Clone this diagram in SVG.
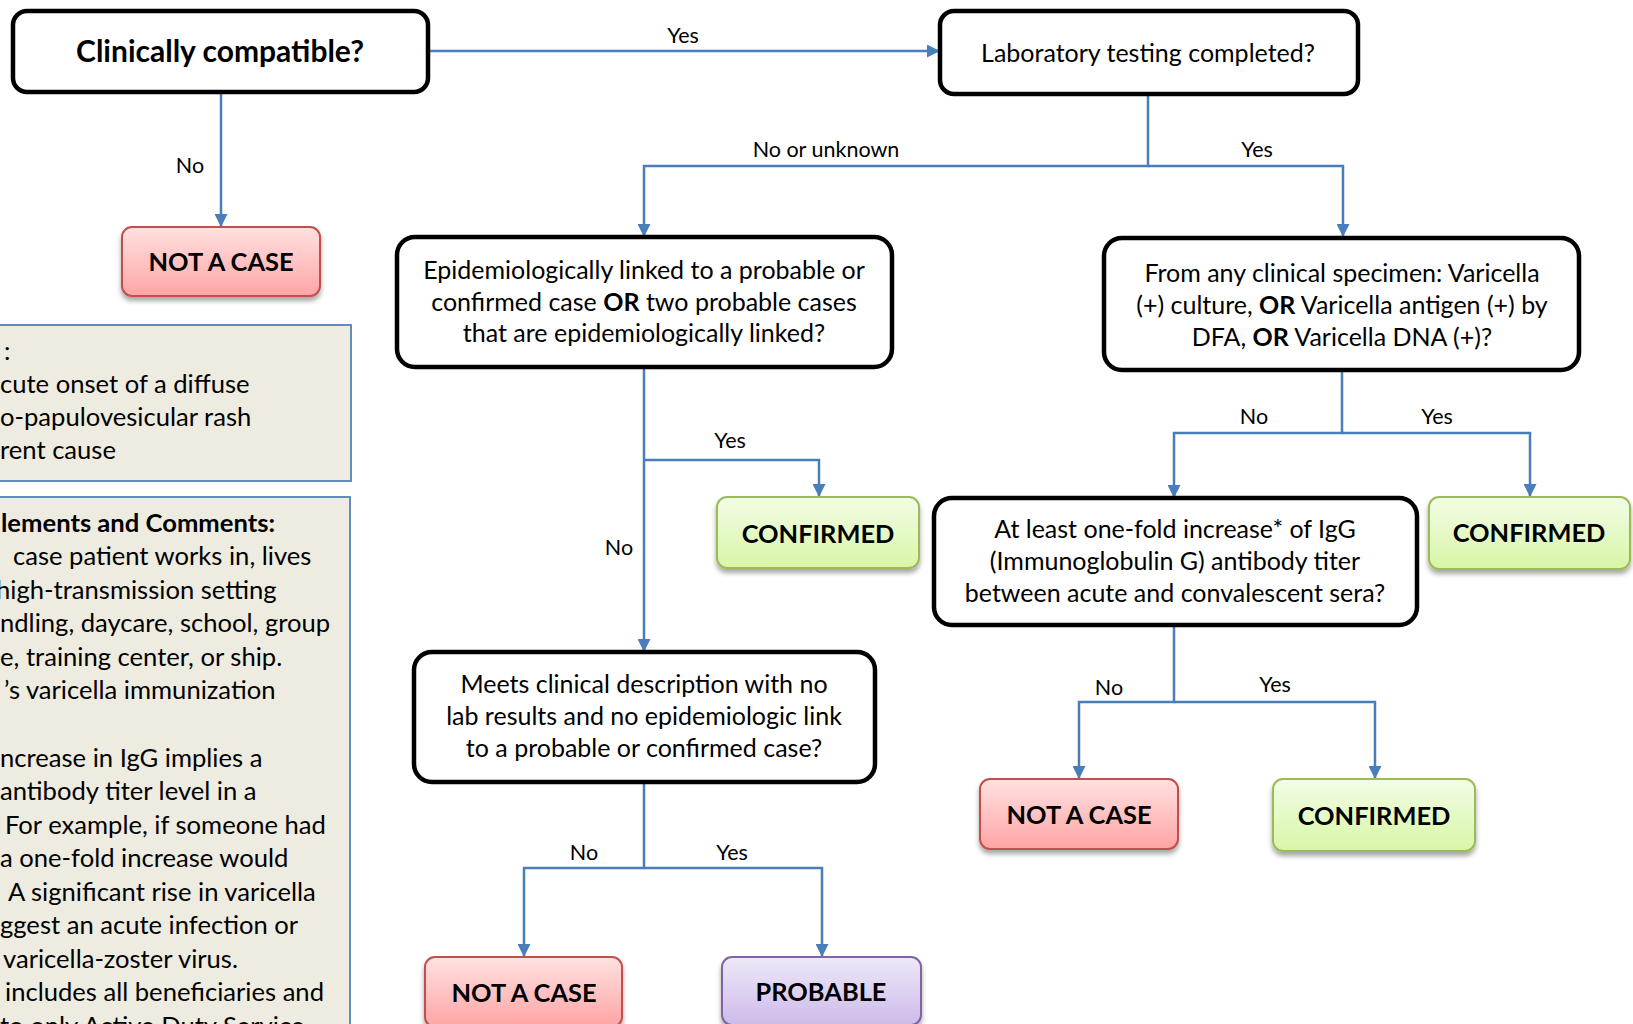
<svg xmlns="http://www.w3.org/2000/svg" width="1633" height="1024" viewBox="0 0 1633 1024">
<style>
.q{fill:#fff;stroke:#000;stroke-width:4.5}
.t{font-family:Lato,"Liberation Sans",sans-serif;font-size:25px;fill:#000;text-anchor:middle}
.tb{font-family:Lato,"Liberation Sans",sans-serif;font-weight:bold;font-size:25.4px;fill:#000;text-anchor:middle}
.lbl{font-family:Lato,"Liberation Sans",sans-serif;font-size:21.5px;fill:#000;text-anchor:middle}
.side{font-family:Lato,"Liberation Sans",sans-serif;font-size:25.6px;fill:#000}
.c{fill:none;stroke:#4A7EBB;stroke-width:2.5}
.a{marker-end:url(#ah)}
.nac{fill:url(#gRed);stroke:#C0504D;stroke-width:2;filter:url(#sh)}
.conf{fill:url(#gGreen);stroke:#9BBB59;stroke-width:2;filter:url(#sh)}
.prob{fill:url(#gPurple);stroke:#8064A2;stroke-width:2;filter:url(#sh)}
.box{fill:#EEECE1;stroke:#4F81BD;stroke-width:1.8}
</style>
<defs>
<marker id="ah" viewBox="0 0 10 10" refX="10" refY="5" markerWidth="5.2" markerHeight="5.2" orient="auto">
<path d="M0,0 L10,5 L0,10 z" fill="#4A7EBB"/>
</marker>
<linearGradient id="gRed" x1="0" y1="0" x2="0" y2="1"><stop offset="0" stop-color="#FFE1E1"/><stop offset="1" stop-color="#FFA4A4"/></linearGradient>
<linearGradient id="gGreen" x1="0" y1="0" x2="0" y2="1"><stop offset="0" stop-color="#F3FCE6"/><stop offset="1" stop-color="#D8F6A6"/></linearGradient>
<linearGradient id="gPurple" x1="0" y1="0" x2="0" y2="1"><stop offset="0" stop-color="#EEE9F8"/><stop offset="1" stop-color="#CDBAEA"/></linearGradient>
<filter id="sh" x="-10%" y="-10%" width="125%" height="150%"><feDropShadow dx="0" dy="4" stdDeviation="2.5" flood-color="#000" flood-opacity="0.35"/></filter>
</defs>

<g id="connectors">
<path class="c a" d="M428,51 H940"/>
<path class="c a" d="M221,92 V227"/>
<path class="c a" d="M1148,94 V166 H644 V237"/>
<path class="c a" d="M1148,166 H1343 V237"/>
<path class="c a" d="M644,367 V652"/>
<path class="c a" d="M644,460 H819 V497"/>
<path class="c a" d="M1342,370 V433 H1174 V498"/>
<path class="c a" d="M1342,433 H1530 V497"/>
<path class="c a" d="M1174,625 V702 H1079 V779"/>
<path class="c a" d="M1174,702 H1375 V779"/>
<path class="c a" d="M644,782 V868 H524 V957"/>
<path class="c a" d="M644,868 H822 V957"/>
<text class="lbl" x="683" y="43">Yes</text>
<text class="lbl" x="190" y="173">No</text>
<text class="lbl" x="826" y="157">No or unknown</text>
<text class="lbl" x="1257" y="157">Yes</text>
<text class="lbl" x="730" y="448">Yes</text>
<text class="lbl" x="619" y="555">No</text>
<text class="lbl" x="1254" y="424">No</text>
<text class="lbl" x="1437" y="424">Yes</text>
<text class="lbl" x="1109" y="695">No</text>
<text class="lbl" x="1275" y="692">Yes</text>
<text class="lbl" x="584" y="860">No</text>
<text class="lbl" x="732" y="860">Yes</text>
</g>

<g id="clinically-compatible">
<rect class="q" x="13" y="11" width="415" height="81" rx="14"/>
<text class="tb" x="220" y="62" style="font-size:30px">Clinically compatible?</text>
</g>
<g id="lab-testing">
<rect class="q" x="940" y="11" width="418" height="83" rx="14"/>
<text class="t" x="1148" y="62">Laboratory testing completed?</text>
</g>
<g id="not-a-case-1">
<rect class="nac" x="122" y="227" width="198" height="69" rx="10"/>
<text class="tb" x="221" y="271">NOT A CASE</text>
</g>
<g id="epi-linked">
<rect class="q" x="397" y="237" width="495" height="130" rx="18"/>
<text class="t" x="644" y="279">Epidemiologically linked to a probable or</text>
<text class="t" x="644" y="311">confirmed case <tspan font-weight="bold">OR</tspan> two probable cases</text>
<text class="t" x="644" y="342">that are epidemiologically linked?</text>
</g>
<g id="specimen">
<rect class="q" x="1104" y="238" width="475" height="132" rx="18"/>
<text class="t" x="1342" y="282">From any clinical specimen: Varicella</text>
<text class="t" x="1342" y="314">(+) culture, <tspan font-weight="bold">OR</tspan> Varicella antigen (+) by</text>
<text class="t" x="1342" y="346">DFA, <tspan font-weight="bold">OR</tspan> Varicella DNA (+)?</text>
</g>
<g id="confirmed-1">
<rect class="conf" x="717" y="497" width="202" height="71" rx="10"/>
<text class="tb" x="818" y="543">CONFIRMED</text>
</g>
<g id="igg-increase">
<rect class="q" x="934" y="498" width="483" height="127" rx="18"/>
<text class="t" x="1175" y="538">At least one-fold increase* of IgG</text>
<text class="t" x="1175" y="570">(Immunoglobulin G) antibody titer</text>
<text class="t" x="1175" y="602">between acute and convalescent sera?</text>
</g>
<g id="confirmed-2">
<rect class="conf" x="1429" y="497" width="201" height="72" rx="10"/>
<text class="tb" x="1529" y="542">CONFIRMED</text>
</g>
<g id="meets-clinical">
<rect class="q" x="414" y="652" width="461" height="130" rx="18"/>
<text class="t" x="644" y="693">Meets clinical description with no</text>
<text class="t" x="644" y="725">lab results and no epidemiologic link</text>
<text class="t" x="644" y="757">to a probable or confirmed case?</text>
</g>
<g id="not-a-case-2">
<rect class="nac" x="980" y="779" width="198" height="70" rx="10"/>
<text class="tb" x="1079" y="824">NOT A CASE</text>
</g>
<g id="confirmed-3">
<rect class="conf" x="1273" y="779" width="202" height="72" rx="10"/>
<text class="tb" x="1374" y="825">CONFIRMED</text>
</g>
<g id="not-a-case-3">
<rect class="nac" x="425" y="957" width="197" height="70" rx="10"/>
<text class="tb" x="524" y="1002">NOT A CASE</text>
</g>
<g id="probable">
<rect class="prob" x="722" y="957" width="199" height="68" rx="10"/>
<text class="tb" x="821" y="1001">PROBABLE</text>
</g>

<g id="clinical-description">
<rect class="box" x="-10" y="325" width="361" height="156"/>
<text class="side" x="4" y="360">:</text>
<text class="side" x="0" y="393">cute onset of a diffuse</text>
<text class="side" x="0" y="426">o-papulovesicular rash</text>
<text class="side" x="0" y="459">rent cause</text>
</g>
<g id="comments">
<rect class="box" x="-10" y="497" width="360" height="560"/>
<text class="side" x="1" y="532" font-weight="bold">lements and Comments:</text>
<text class="side" x="13" y="565">case patient works in, lives</text>
<text class="side" x="-4" y="599">high-transmission setting</text>
<text class="side" x="0" y="632">ndling, daycare, school, group</text>
<text class="side" x="0" y="666">e, training center, or ship.</text>
<text class="side" x="4" y="699">’s varicella immunization</text>
<text class="side" x="0" y="767">ncrease in IgG implies a</text>
<text class="side" x="0" y="800">antibody titer level in a</text>
<text class="side" x="5" y="834">For example, if someone had</text>
<text class="side" x="0" y="867">a one-fold increase would</text>
<text class="side" x="8" y="901">A significant rise in varicella</text>
<text class="side" x="0" y="934">ggest an acute infection or</text>
<text class="side" x="3" y="968">varicella-zoster virus.</text>
<text class="side" x="5" y="1001">includes all beneficiaries and</text>
<text class="side" x="0" y="1035">to only Active Duty Service</text>
</g>
</svg>
